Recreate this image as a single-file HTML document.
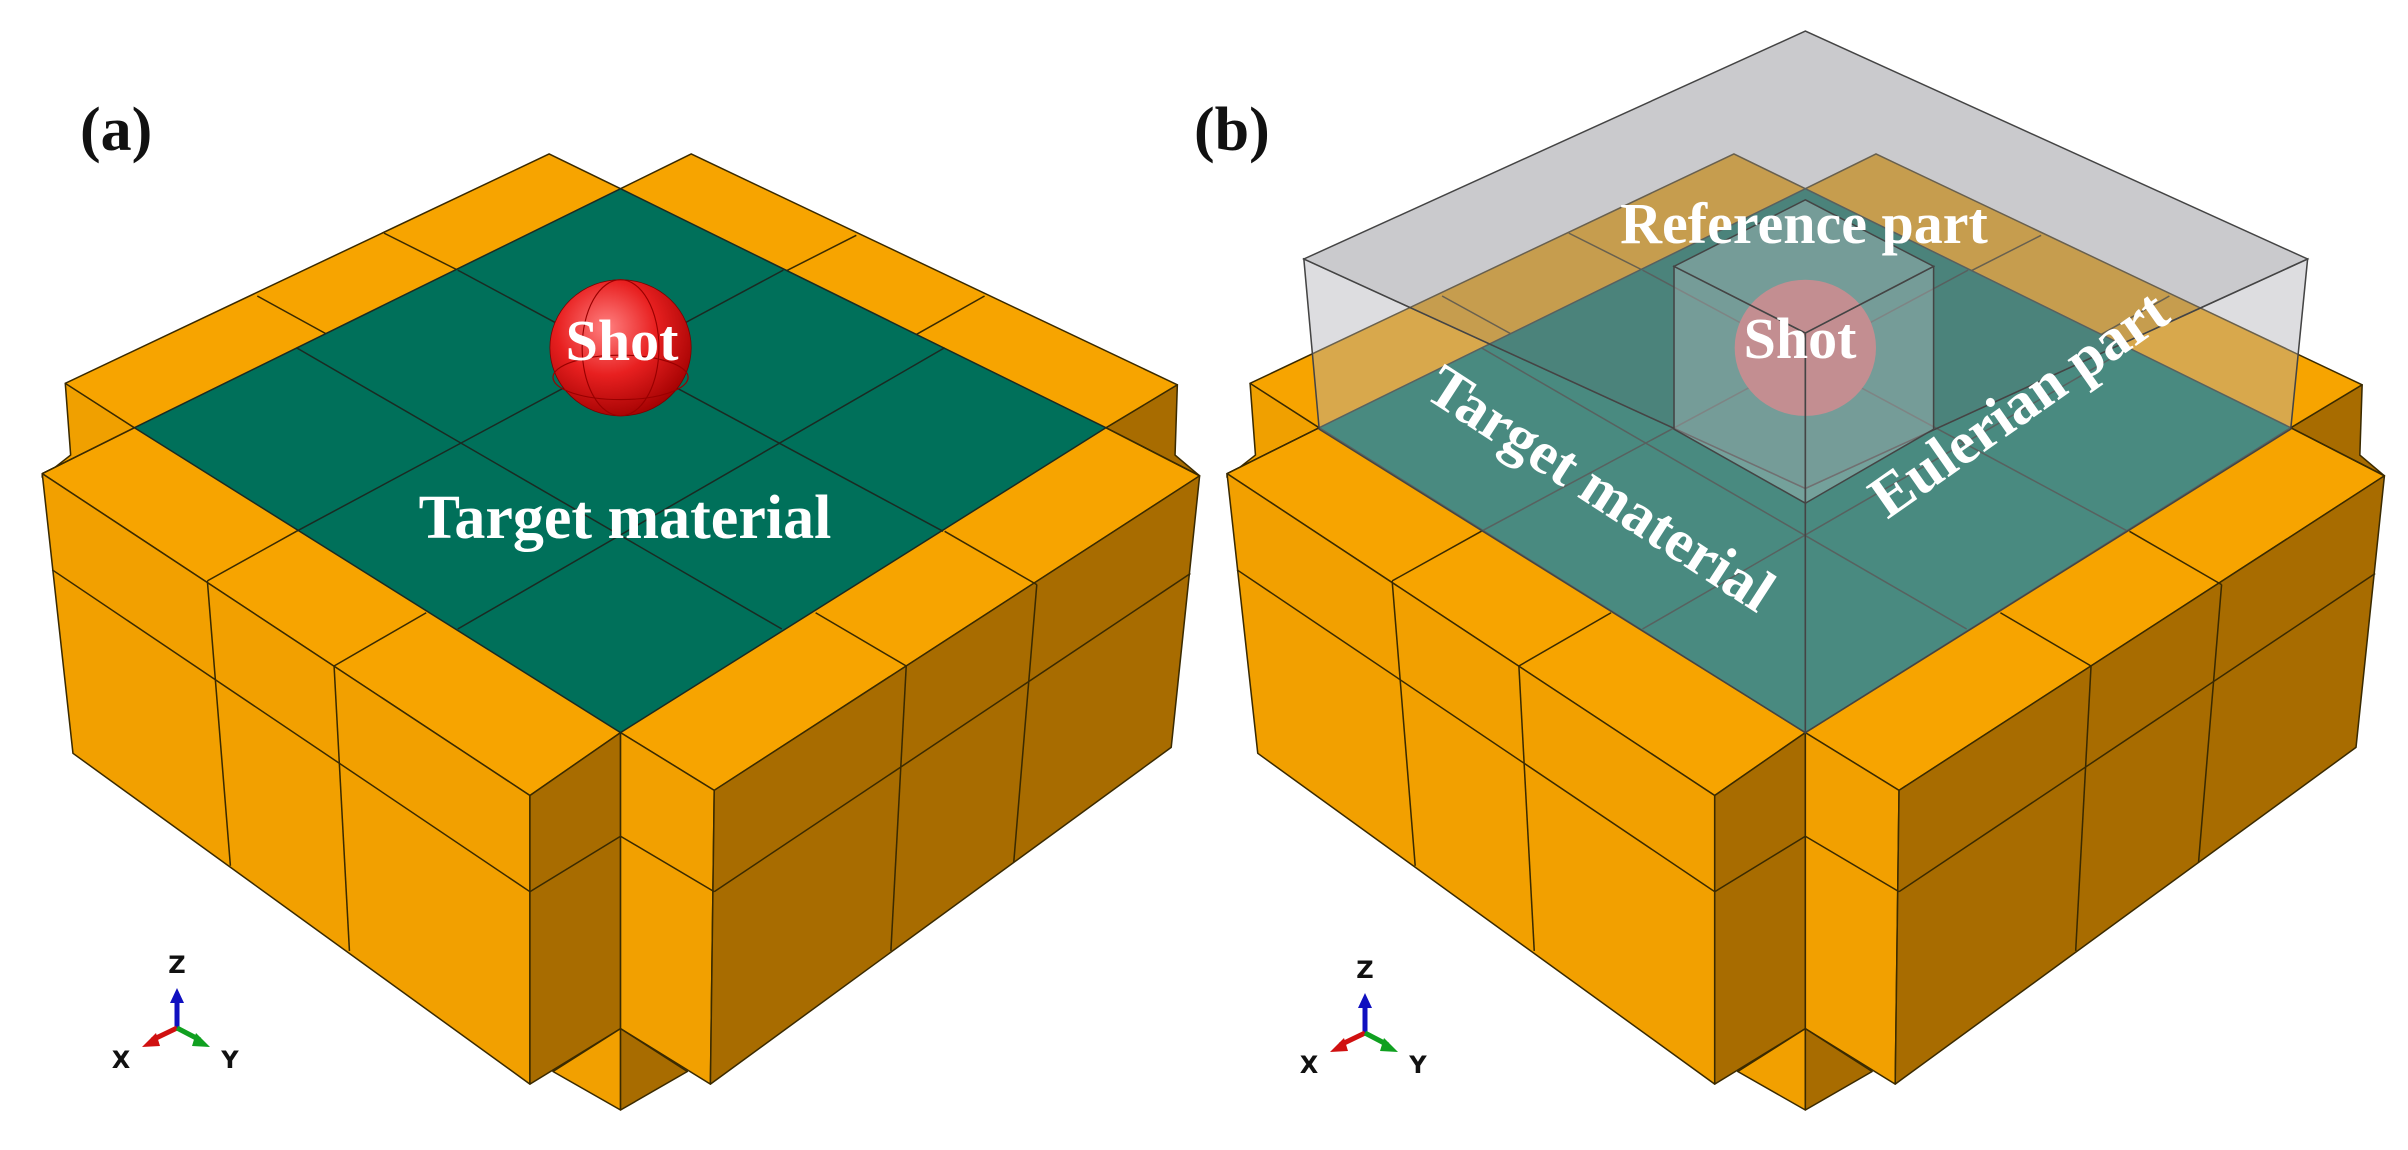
<!DOCTYPE html>
<html><head><meta charset="utf-8"><style>
html,body{margin:0;padding:0;background:#fff;}
svg{display:block;}
text.s{font-family:"Liberation Serif",serif;font-weight:bold;}
text.a{font-family:"DejaVu Sans","Liberation Sans",sans-serif;font-weight:bold;}
</style></head><body>
<svg width="2408" height="1150" viewBox="0 0 2408 1150" xmlns="http://www.w3.org/2000/svg">
<defs>
<radialGradient id="sph" cx="0.4" cy="0.35" r="0.7">
<stop offset="0" stop-color="#ff8080"/><stop offset="0.5" stop-color="#e82020"/><stop offset="1" stop-color="#a00000"/>
</radialGradient>
<g id="block" stroke="#3a2a00" stroke-width="2" stroke-linejoin="round">
  <polygon points="85,518 175,578 55,640 55,645 92,615" fill="#f0a000"/>
  <polygon points="1533,520 1530,615 1562,643 1440,578" fill="#a86c00"/>
  <polygon points="85,518 715,208 808,255 900,208 1533,520 1440,578 1562,643 930,1068 808,990 690,1075 55,640 175,578" fill="#f7a400"/>
  <polygon points="55,640 690,1075 690,1465 95,1018" fill="#f2a000"/>
  <polygon points="690,1075 808,990 808,1390 690,1465" fill="#a86c00"/>
  <polygon points="808,990 930,1068 925,1465 808,1390" fill="#f2a000"/>
  <polygon points="930,1068 1562,643 1525,1010 925,1465" fill="#a86c00"/>
  <polygon points="720,1448 808,1390 808,1500" fill="#f2a000"/>
  <polygon points="808,1390 895,1448 808,1500" fill="#a86c00"/>
  <polyline points="68,770 690,1205" fill="none"/>
  <polyline points="930,1205 1550,775" fill="none"/>
  <polyline points="690,1205 808,1130 930,1205" fill="none"/>
  <polyline points="270,785 300,1170" fill="none"/>
  <polyline points="435,900 455,1285" fill="none"/>
  <polyline points="1180,900 1160,1285" fill="none"/>
  <polyline points="1350,790 1320,1165" fill="none"/>
  <polyline points="270,785 386,718" fill="none"/>
  <polyline points="435,900 555,828" fill="none"/>
  <polyline points="1180,900 1062,828" fill="none"/>
  <polyline points="1350,790 1230,718" fill="none"/>
  <polyline points="335,400 428,453" fill="none"/>
  <polyline points="500,315 596,365" fill="none"/>
  <polyline points="1115,318 1020,368" fill="none"/>
  <polyline points="1282,400 1188,455" fill="none"/>
  <polyline points="55,640 175,578" fill="none"/>
  <polyline points="1562,643 1440,578" fill="none"/>
</g>
<g id="green" stroke="#1a2a22" stroke-width="2">
  <polygon points="808,255 1440,578 808,990 175,578" fill="#00705a"/>
  <line x1="596" y1="365" x2="1228" y2="718"/>
  <line x1="386" y1="470" x2="1018" y2="850"/>
  <line x1="1020" y1="365" x2="386" y2="718"/>
  <line x1="1230" y1="470" x2="596" y2="850"/>
</g>
<g id="ax">
  <line x1="177" y1="1028" x2="177" y2="1000" stroke="#1010c0" stroke-width="5"/>
  <polygon points="170,1003 184,1003 177,988" fill="#1010c0"/>
  <line x1="177" y1="1028" x2="152" y2="1040" stroke="#d01010" stroke-width="5"/>
  <polygon points="142,1047 156,1033 160,1046" fill="#d01010"/>
  <line x1="177" y1="1028" x2="200" y2="1040" stroke="#10a020" stroke-width="5"/>
  <polygon points="210,1047 196,1033 192,1046" fill="#10a020"/>
</g>
</defs>

<g transform="scale(0.768,0.74)">
  <use href="#block"/>
  <use href="#green"/>
  <circle cx="808" cy="470" r="92" fill="url(#sph)" stroke="#700" stroke-width="1"/>
  <ellipse cx="808" cy="470" rx="50" ry="92" fill="none" stroke="#900" stroke-width="1.5"/>
  <ellipse cx="808" cy="510" rx="88" ry="30" fill="none" stroke="#900" stroke-width="1.5"/>
</g>
<text class="s" x="80" y="150" font-size="62" fill="#111">(a)</text>
<text class="s" x="622" y="360" font-size="58" fill="#fff" text-anchor="middle">Shot</text>
<text class="s" x="625" y="538" font-size="62" fill="#fff" text-anchor="middle">Target material</text>

<g transform="translate(1204,0) scale(0.768,0.74) translate(-25,0)">
  <use href="#block"/>
  <use href="#green"/>
  <circle cx="808" cy="470" r="92" fill="#e04848"/>
</g>
<g transform="translate(1204,0) scale(0.768,0.74)" stroke="#444" stroke-width="2" fill="rgba(175,175,180,0.42)">
  <polygon points="130,350 783,660 783,990 150,580"/>
  <polygon points="783,660 1437,350 1415,580 783,990"/>
  <polygon points="783,42 1437,350 783,660 130,350" fill="rgba(150,150,155,0.5)"/>
  <polygon points="612,360 783,450 783,680 612,580" fill="rgba(215,215,220,0.3)"/>
  <polygon points="783,450 950,360 950,580 783,680" fill="rgba(215,215,220,0.3)"/>
  <polygon points="783,270 950,360 783,450 612,360" fill="rgba(215,215,220,0.3)"/>
</g>
<text class="s" x="1194" y="150" font-size="62" fill="#111">(b)</text>
<text class="s" x="1804" y="243" font-size="58" fill="#fff" text-anchor="middle">Reference part</text>
<text class="s" x="1800" y="358" font-size="58" fill="#fff" text-anchor="middle">Shot</text>
<text class="s" transform="translate(1590,505) rotate(33)" font-size="60" fill="#fff" text-anchor="middle">Target material</text>
<text class="s" transform="translate(2030,420) rotate(-35)" font-size="60" fill="#fff" text-anchor="middle">Eulerian part</text>

<use href="#ax"/>
<text class="a" x="177" y="973" font-size="24" text-anchor="middle" fill="#111">Z</text>
<text class="a" x="121" y="1068" font-size="24" text-anchor="middle" fill="#111">X</text>
<text class="a" x="230" y="1068" font-size="24" text-anchor="middle" fill="#111">Y</text>
<g transform="translate(1188,5)">
  <use href="#ax"/>
  <text class="a" x="177" y="973" font-size="24" text-anchor="middle" fill="#111">Z</text>
  <text class="a" x="121" y="1068" font-size="24" text-anchor="middle" fill="#111">X</text>
  <text class="a" x="230" y="1068" font-size="24" text-anchor="middle" fill="#111">Y</text>
</g>
</svg>
</body></html>
